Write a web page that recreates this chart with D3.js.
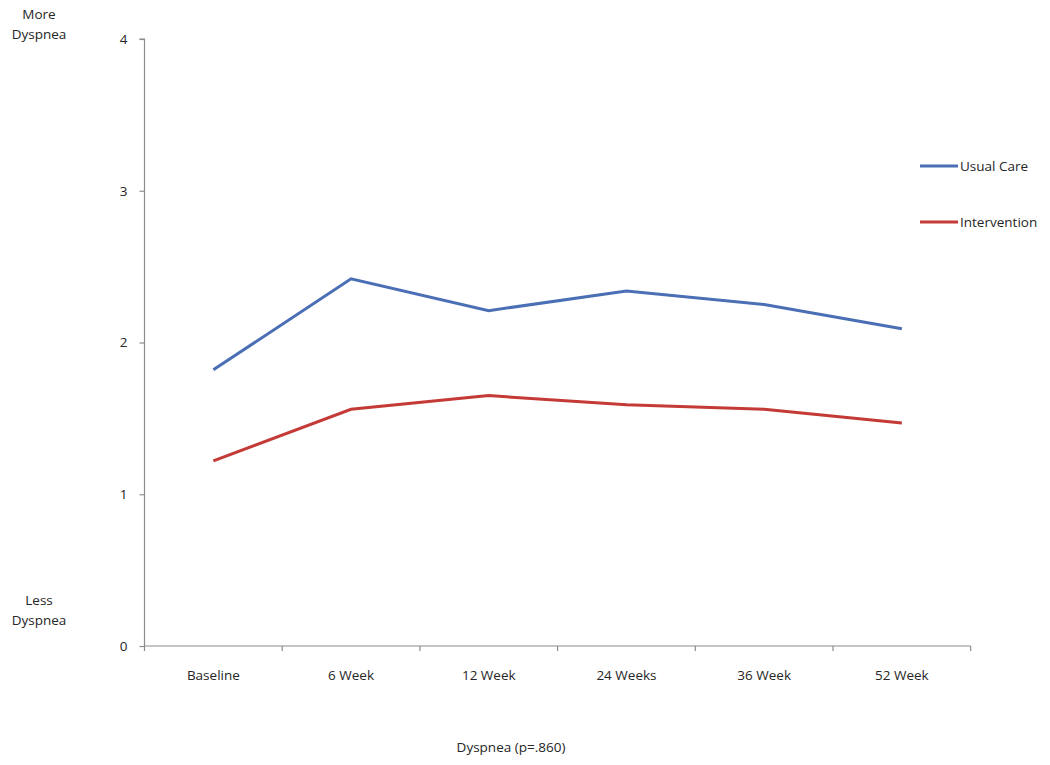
<!DOCTYPE html>
<html>
<head>
<meta charset="utf-8">
<script src="https://cdn.jsdelivr.net/npm/d3@7"></script>
<style>
html,body{margin:0;padding:0;background:#fff;}
svg text{font-family:"Open Sans","Noto Sans",sans-serif;fill:#262626;}
</style>
</head>
<body>
<svg id="chart" width="1050" height="765"></svg>
<script>
const categories = ["Baseline","6 Week","12 Week","24 Weeks","36 Week","52 Week"];
const usualCare = [1.82, 2.42, 2.21, 2.34, 2.25, 2.09];
const intervention = [1.22, 1.56, 1.65, 1.59, 1.56, 1.47];
const yTicks = [0,1,2,3,4];
const seriesNames = ["Usual Care","Intervention"];
const seriesColors = ["#4A6FB5","#C33A36"];

const FS = 13.5;
const svg = d3.select("#chart");
const x = d3.scaleBand().domain(categories).range([144.5, 970.7]);
const y = d3.scaleLinear().domain([0,4]).range([646, 39]);

// y axis
const yAxis = svg.append("g").attr("transform","translate(144.5,0)")
  .call(d3.axisLeft(y).tickValues(yTicks).tickSize(5).tickPadding(12).tickFormat(d3.format("d")));
yAxis.select(".domain").attr("stroke","#8c8c8c").attr("stroke-width",1.2).attr("d","M-5,39H0V646");
yAxis.selectAll(".tick line").attr("stroke","#8c8c8c").attr("stroke-width",1.2);
yAxis.selectAll(".tick text").attr("font-size",FS).style("fill","#262626");

// x axis
const xAxis = svg.append("g").attr("transform","translate(0,646)")
  .call(d3.axisBottom(x).tickSize(0).tickPadding(24));
xAxis.select(".domain").attr("stroke","#8c8c8c").attr("stroke-width",1.2).attr("d","M144.5,0H970.7");
xAxis.selectAll(".tick text").attr("font-size",FS).style("fill","#262626");
// category boundary ticks
const bounds = categories.map(c => x(c)).concat([x.range()[1]]);
svg.append("g").selectAll("line").data(bounds).join("line")
  .attr("x1",d=>d).attr("x2",d=>d).attr("y1",646).attr("y2",651)
  .attr("stroke","#8c8c8c").attr("stroke-width",1.2);

// lines
const line = d3.line().x((d,i)=>x(categories[i])+x.bandwidth()/2).y(d=>y(d));
[usualCare, intervention].forEach((s,i)=>{
  svg.append("path").datum(s).attr("d",line).attr("fill","none")
    .attr("stroke",seriesColors[i]).attr("stroke-width",3).attr("stroke-linejoin","miter");
});

// legend
const legY = [166, 222];
seriesNames.forEach((n,i)=>{
  svg.append("line").attr("x1",920).attr("x2",958).attr("y1",legY[i]).attr("y2",legY[i])
    .attr("stroke",seriesColors[i]).attr("stroke-width",3);
  svg.append("text").attr("x",960).attr("y",legY[i]+4.5).attr("font-size",FS).text(n);
});

// side labels
[["More","Dyspnea",14],["Less","Dyspnea",600]].forEach(([a,b,yy])=>{
  const t = svg.append("text").attr("x",39).attr("text-anchor","middle").attr("font-size",FS);
  t.append("tspan").attr("x",39).attr("y",yy+4.5).text(a);
  t.append("tspan").attr("x",39).attr("y",yy+24.5).text(b);
});

// title
svg.append("text").attr("x",511).attr("y",752).attr("text-anchor","middle").attr("font-size",FS).text("Dyspnea (p=.860)");
</script>
</body>
</html>
